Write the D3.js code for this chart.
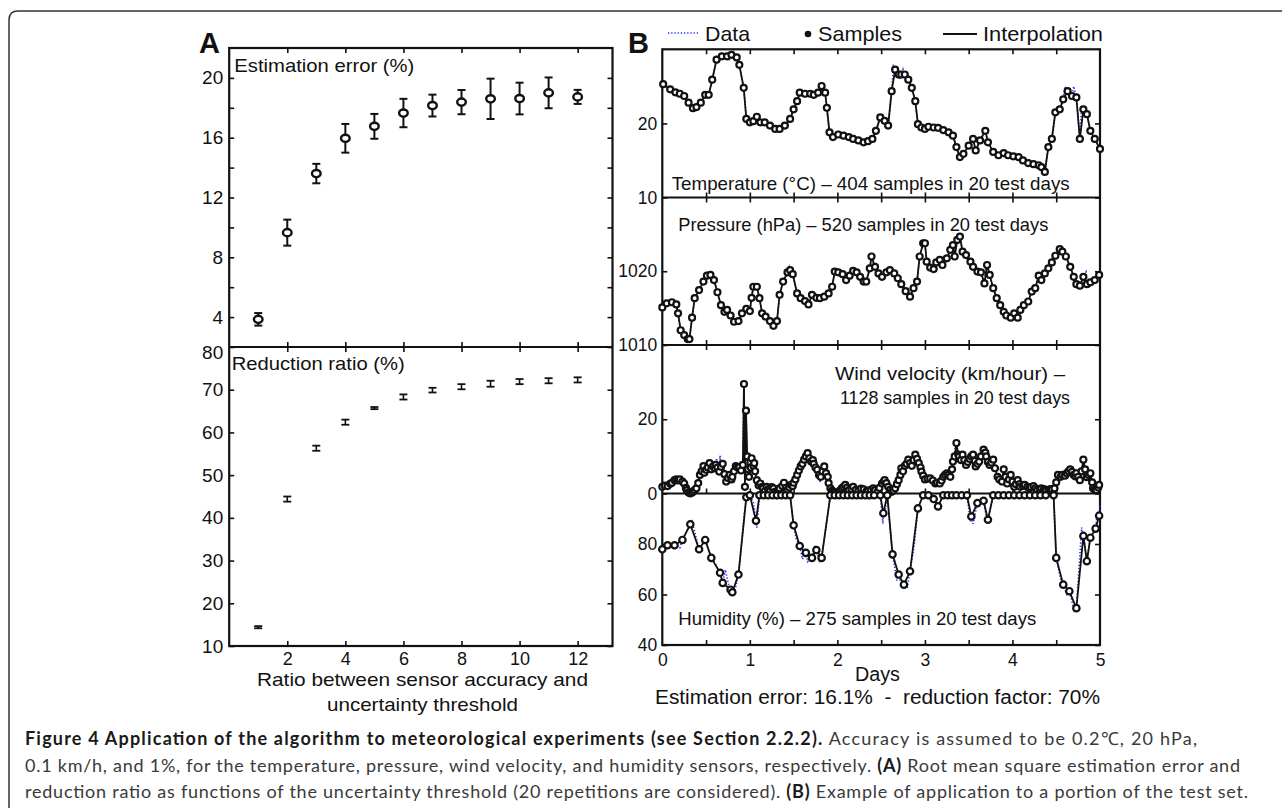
<!DOCTYPE html>
<html>
<head>
<meta charset="utf-8">
<title>Figure 4 - meteorological experiments</title>
<script src="https://d3js.org/d3.v7.min.js"></script>
<style>
  body { margin: 0; background: #fff; }
  svg text { font-family: "Liberation Sans", Arial, sans-serif; fill: #111; }
</style>
</head>
<body>
<script>
// ---------- data: panel A ----------
var ratio    = [1, 2, 3, 4, 5, 6, 7, 8, 9, 10, 11, 12];
var errMean  = [3.85, 9.65, 13.6, 15.96, 16.76, 17.65, 18.15, 18.38, 18.6, 18.62, 19.0, 18.73];
var errSd    = [0.42, 0.87, 0.65, 0.96, 0.83, 0.95, 0.73, 0.81, 1.35, 1.06, 1.03, 0.47];
var redMean  = [14.4, 44.4, 56.3, 62.4, 65.7, 68.3, 69.9, 70.7, 71.4, 71.9, 72.1, 72.3];
var redSd    = [0.25, 0.6, 0.6, 0.6, 0.25, 0.6, 0.55, 0.6, 0.7, 0.6, 0.6, 0.6];
var errTicks = [4, 6, 8, 10, 12, 14, 16, 18, 20];
var redTicks = [10, 20, 30, 40, 50, 60, 70, 80];
var ratioTicks = [2, 4, 6, 8, 10, 12];

// ---------- data: panel B  ([day, value]) ----------
var tempSamples = [[0.01,25.3],[0.09,24.6],[0.15,24.2],[0.2,24.0],[0.25,23.7],[0.3,22.8],[0.35,22.05],[0.39,22.2],[0.44,22.8],[0.49,23.85],[0.53,23.85],[0.57,25.9],[0.62,28.6],[0.68,29.05],[0.74,29.05],[0.79,29.25],[0.85,28.9],[0.88,27.9],[0.93,24.8],[0.96,20.6],[1.0,20.15],[1.04,20.3],[1.08,20.9],[1.12,20.15],[1.17,20.15],[1.23,19.7],[1.29,19.25],[1.34,19.25],[1.4,19.7],[1.46,20.6],[1.5,21.9],[1.54,23.0],[1.57,24.15],[1.63,24.0],[1.69,24.0],[1.73,23.85],[1.78,24.15],[1.82,25.05],[1.86,24.15],[1.88,22.1],[1.91,18.8],[1.95,18.15],[2.01,18.5],[2.07,18.35],[2.13,18.15],[2.18,17.9],[2.24,17.7],[2.3,17.45],[2.35,17.6],[2.4,17.9],[2.44,19.0],[2.49,20.8],[2.54,20.35],[2.58,19.7],[2.62,24.35],[2.66,27.25],[2.7,26.6],[2.73,26.6],[2.77,26.6],[2.81,25.9],[2.85,24.8],[2.89,23.0],[2.92,19.9],[2.96,19.45],[3.0,19.25],[3.04,19.55],[3.1,19.45],[3.15,19.4],[3.21,19.1],[3.27,18.8],[3.32,18.35],[3.36,16.8],[3.4,15.45],[3.44,15.9],[3.5,17.0],[3.55,17.9],[3.58,16.35],[3.63,17.7],[3.69,19.0],[3.72,17.45],[3.78,16.15],[3.84,15.7],[3.9,16.0],[3.95,15.7],[4.01,15.55],[4.07,15.45],[4.12,15.0],[4.18,14.65],[4.24,14.5],[4.3,14.35],[4.33,14.1],[4.37,13.45],[4.41,16.8],[4.45,17.9],[4.49,21.5],[4.54,21.9],[4.58,23.25],[4.63,24.35],[4.68,23.7],[4.73,23.5],[4.77,17.9],[4.81,21.9],[4.85,21.25],[4.89,19.0],[4.94,17.9],[5.0,16.55]];
var tempDataExtra = [[0.7,29.5],[0.76,28.4],[0.81,29.7],[0.9,26.5],[1.6,24.6],[1.76,24.5],[2.64,27.7],[2.71,25.9],[2.75,27.3],[2.79,26.0],[4.6,25.0],[4.66,24.0],[4.7,25.0],[4.79,22.4]];

var presSamples = [[0.0,1015.1],[0.05,1015.65],[0.11,1015.8],[0.16,1015.5],[0.18,1014.3],[0.21,1012.0],[0.25,1011.35],[0.29,1010.8],[0.31,1010.8],[0.34,1013.7],[0.37,1016.35],[0.42,1017.45],[0.47,1018.6],[0.51,1019.4],[0.55,1019.5],[0.59,1018.8],[0.63,1017.15],[0.67,1015.4],[0.71,1014.5],[0.74,1014.75],[0.78,1014.0],[0.82,1013.15],[0.87,1013.25],[0.91,1014.3],[0.96,1014.9],[1.0,1014.6],[1.02,1016.4],[1.04,1017.9],[1.08,1017.9],[1.11,1016.35],[1.14,1014.3],[1.18,1013.85],[1.23,1013.25],[1.27,1012.6],[1.31,1013.25],[1.34,1016.8],[1.38,1018.6],[1.43,1019.85],[1.46,1020.15],[1.49,1019.6],[1.54,1017.0],[1.58,1016.35],[1.63,1015.95],[1.67,1015.5],[1.71,1016.8],[1.76,1016.4],[1.8,1016.35],[1.85,1016.55],[1.9,1017.0],[1.94,1017.9],[1.97,1019.95],[2.01,1019.85],[2.06,1019.6],[2.1,1018.8],[2.14,1019.4],[2.18,1020.05],[2.22,1019.85],[2.26,1019.25],[2.3,1018.6],[2.33,1018.6],[2.37,1020.4],[2.39,1022.0],[2.43,1020.6],[2.47,1019.7],[2.51,1019.25],[2.56,1019.85],[2.6,1020.15],[2.65,1019.7],[2.69,1019.05],[2.73,1018.25],[2.78,1017.3],[2.83,1016.55],[2.87,1017.7],[2.91,1018.6],[2.94,1022.0],[2.98,1023.8],[3.0,1023.8],[3.02,1021.3],[3.06,1020.5],[3.1,1020.3],[3.13,1021.2],[3.17,1021.55],[3.2,1020.85],[3.25,1021.75],[3.29,1022.9],[3.32,1023.55],[3.34,1022.0],[3.37,1024.25],[3.4,1024.7],[3.43,1022.65],[3.47,1022.2],[3.52,1021.3],[3.55,1020.6],[3.6,1019.95],[3.64,1019.85],[3.68,1018.35],[3.71,1020.85],[3.74,1019.5],[3.78,1017.7],[3.82,1016.35],[3.86,1015.4],[3.9,1014.5],[3.93,1014.0],[3.98,1013.7],[4.02,1014.3],[4.06,1013.7],[4.09,1014.75],[4.13,1015.4],[4.18,1015.9],[4.22,1017.25],[4.26,1017.7],[4.3,1019.4],[4.33,1018.8],[4.37,1019.7],[4.41,1020.4],[4.45,1021.2],[4.49,1022.1],[4.54,1023.0],[4.57,1022.65],[4.61,1022.0],[4.66,1020.6],[4.7,1019.25],[4.73,1018.25],[4.77,1018.05],[4.81,1019.25],[4.85,1018.25],[4.89,1018.5],[4.94,1018.8],[4.99,1019.5]];
var presDataExtra = [[1.45,1020.6],[1.68,1016.0],[1.75,1016.9],[2.25,1018.9],[3.15,1021.9],[3.7,1021.4],[4.84,1019.9],[5.0,1020.2]];

var windSamples = [[0.0,1.8],[0.03,2.1],[0.06,2.0],[0.09,2.6],[0.11,2.9],[0.14,3.6],[0.16,3.8],[0.18,3.5],[0.2,3.8],[0.23,3.2],[0.25,2.7],[0.27,1.5],[0.28,0.9],[0.3,0.3],[0.32,0.0],[0.34,0.3],[0.35,0.45],[0.37,0.9],[0.39,1.4],[0.41,2.8],[0.43,5.0],[0.45,6.0],[0.47,7.4],[0.48,5.6],[0.5,6.4],[0.52,7.0],[0.54,8.2],[0.56,6.5],[0.58,7.3],[0.6,6.8],[0.61,7.7],[0.63,7.0],[0.65,5.9],[0.67,7.2],[0.69,8.0],[0.71,5.2],[0.73,3.2],[0.75,4.2],[0.77,5.0],[0.79,3.8],[0.8,4.5],[0.82,6.0],[0.84,7.4],[0.86,7.0],[0.88,7.1],[0.9,6.2],[0.92,7.7],[0.933,29.5],[0.944,1.8],[0.956,22.3],[0.97,10.0],[0.98,6.5],[0.99,4.5],[1.01,7.0],[1.02,9.5],[1.04,7.5],[1.05,8.2],[1.06,6.0],[1.08,3.6],[1.1,2.2],[1.12,2.7],[1.14,1.8],[1.15,1.4],[1.17,0.6],[1.19,1.8],[1.21,1.2],[1.23,0.9],[1.25,1.7],[1.27,1.4],[1.29,0.5],[1.31,0.2],[1.33,0.9],[1.34,1.4],[1.37,2.0],[1.39,2.9],[1.41,1.5],[1.43,0.9],[1.45,1.6],[1.47,2.3],[1.49,2.0],[1.5,2.9],[1.52,3.8],[1.54,5.0],[1.56,6.2],[1.58,7.3],[1.6,8.0],[1.62,9.1],[1.64,10.0],[1.66,10.9],[1.68,9.5],[1.7,8.6],[1.72,9.0],[1.73,8.0],[1.75,7.0],[1.77,6.4],[1.79,5.0],[1.81,4.5],[1.83,6.0],[1.85,7.3],[1.87,5.5],[1.89,4.5],[1.9,2.8],[1.92,1.4],[1.94,0.8],[1.95,0.45],[1.97,0.3],[2.0,0.2],[2.03,0.8],[2.05,1.4],[2.07,1.8],[2.09,2.3],[2.11,1.6],[2.13,0.9],[2.16,1.2],[2.18,1.8],[2.21,1.0],[2.24,0.7],[2.27,1.3],[2.3,1.1],[2.33,0.5],[2.35,0.7],[2.38,1.0],[2.41,1.4],[2.43,0.9],[2.46,0.45],[2.48,1.5],[2.51,2.7],[2.53,3.2],[2.54,3.6],[2.56,2.8],[2.58,1.8],[2.6,1.0],[2.62,0.45],[2.64,0.8],[2.66,1.4],[2.68,2.5],[2.7,3.6],[2.72,5.0],[2.73,6.8],[2.75,6.0],[2.77,7.45],[2.79,8.0],[2.81,9.1],[2.83,8.2],[2.85,7.45],[2.87,9.0],[2.89,10.45],[2.91,9.3],[2.93,8.2],[2.95,7.0],[2.96,5.9],[2.98,4.8],[3.0,3.8],[3.03,4.0],[3.06,4.1],[3.09,3.5],[3.12,2.7],[3.14,2.9],[3.17,2.7],[3.19,3.5],[3.21,4.5],[3.23,5.0],[3.25,5.45],[3.27,5.0],[3.29,4.5],[3.31,6.5],[3.32,8.6],[3.34,10.0],[3.36,13.6],[3.38,10.5],[3.39,10.0],[3.41,9.0],[3.43,10.45],[3.45,9.0],[3.47,7.7],[3.49,8.5],[3.51,9.3],[3.53,10.0],[3.55,10.45],[3.57,8.8],[3.58,7.3],[3.6,8.0],[3.62,8.6],[3.64,10.0],[3.67,11.8],[3.69,11.0],[3.7,10.0],[3.72,8.5],[3.74,7.7],[3.76,8.3],[3.78,9.1],[3.8,6.8],[3.83,4.5],[3.85,3.8],[3.88,3.2],[3.9,6.5],[3.92,4.5],[3.94,2.7],[3.96,3.8],[3.98,5.0],[4.0,3.2],[4.02,1.8],[4.04,2.5],[4.06,3.6],[4.08,2.5],[4.09,1.8],[4.12,2.1],[4.14,2.3],[4.17,1.8],[4.19,1.4],[4.21,1.7],[4.24,2.0],[4.26,1.4],[4.28,0.9],[4.31,1.1],[4.33,1.4],[4.36,1.2],[4.38,0.9],[4.41,1.0],[4.43,1.1],[4.45,1.2],[4.48,1.4],[4.5,3.0],[4.52,5.0],[4.55,4.5],[4.57,5.0],[4.6,4.8],[4.62,5.45],[4.64,6.0],[4.66,6.5],[4.68,5.8],[4.7,5.0],[4.72,4.6],[4.73,5.45],[4.75,4.5],[4.77,3.6],[4.79,6.0],[4.81,9.1],[4.83,6.5],[4.85,4.4],[4.87,5.0],[4.89,5.45],[4.91,3.0],[4.92,1.4],[4.94,1.0],[4.96,0.9],[4.98,1.6],[4.99,2.3]];
var windDataExtra = [[0.62,9.5],[0.66,10.2],[1.53,6.5],[1.8,3.0],[2.71,6.2],[3.35,14.2],[4.85,7.0]];

var humSamples = [[0.0,77.9],[0.06,79.5],[0.14,79.5],[0.23,81.6],[0.32,87.8],[0.42,77.9],[0.49,81.6],[0.56,74.5],[0.66,68.6],[0.69,64.6],[0.78,61.9],[0.8,60.9],[0.87,67.9],[0.96,98.5],[1.0,99.3],[1.07,89.2],[1.11,99.3],[1.16,99.3],[1.21,99.3],[1.26,99.3],[1.31,99.3],[1.36,99.3],[1.41,99.3],[1.46,99.3],[1.5,87.4],[1.57,79.2],[1.64,76.5],[1.71,74.5],[1.76,77.6],[1.82,74.5],[1.92,99.3],[1.97,99.3],[2.02,99.3],[2.07,99.3],[2.12,99.3],[2.17,99.3],[2.22,99.3],[2.27,99.3],[2.32,99.3],[2.37,99.3],[2.42,99.3],[2.49,99.3],[2.525,92.2],[2.57,99.3],[2.63,75.9],[2.7,67.9],[2.76,63.9],[2.83,69.2],[2.92,94.1],[2.98,99.3],[3.04,99.3],[3.1,97.8],[3.15,94.9],[3.21,99.3],[3.26,99.3],[3.31,99.3],[3.36,99.3],[3.42,99.3],[3.48,99.3],[3.53,90.9],[3.6,96.2],[3.67,97.1],[3.72,89.6],[3.78,99.3],[3.84,99.3],[3.9,99.3],[3.96,99.3],[4.02,99.3],[4.08,99.3],[4.14,99.3],[4.2,99.3],[4.26,99.3],[4.32,99.3],[4.38,99.3],[4.47,99.3],[4.5,74.5],[4.58,63.9],[4.65,61.3],[4.73,54.6],[4.81,83.2],[4.85,73.2],[4.89,82.5],[4.95,86.1],[4.99,91.2]];
var humDataExtra = [[0.2,78.5],[0.34,89.0],[0.6,72.5],[0.72,69.8],[0.76,63.5],[0.83,61.5],[0.94,93.0],[1.04,96.5],[1.08,86.5],[1.12,98.5],[1.3,98.0],[1.53,82.0],[1.6,74.0],[1.66,73.0],[1.74,79.5],[1.8,72.5],[2.1,98.3],[2.35,98.0],[2.52,88.0],[2.55,94.0],[2.68,65.5],[2.74,62.5],[2.8,63.0],[2.88,80.0],[3.13,96.5],[3.3,98.2],[3.52,89.0],[3.55,88.0],[3.71,88.5],[4.0,98.4],[4.3,98.0],[4.55,66.0],[4.62,60.0],[4.71,53.0],[4.79,86.5],[4.97,93.0],[5.0,96.0]];

var dayTicks = [0.5, 1, 1.5, 2, 2.5, 3, 3.5, 4, 4.5];
var dayLabels = [0, 1, 2, 3, 4, 5];

// ---------- basic setting ----------
var width = 1282, height = 808;
var ink = "#111";
var blue = "#2438f0";

var svg = d3.select("body").append("svg")
  .attr("width", width)
  .attr("height", height);

// outer frame (top + left, rounded corner)
svg.append("path")
  .attr("d", "M1282,11 H18 Q9,11 9,20 V808")
  .attr("fill", "none").attr("stroke", "#333").attr("stroke-width", 1.5);

function styleAxis(g, size) {
  g.select(".domain").remove();
  g.selectAll(".tick line").attr("stroke", ink).attr("stroke-width", 1.6);
  g.selectAll(".tick text").attr("font-size", size).attr("fill", ink)
    .attr("font-family", "'Liberation Sans', Arial, sans-serif");
}

function txt(x, y, s, size, len, opts) {
  opts = opts || {};
  var t = svg.append("text")
    .attr("x", x).attr("y", y)
    .attr("font-size", size)
    .attr("text-anchor", opts.anchor || "start")
    .attr("font-weight", opts.bold ? "bold" : null)
    .style("white-space", "pre")
    .text(s);
  if (len) t.attr("textLength", len).attr("lengthAdjust", "spacingAndGlyphs");
  return t;
}

var fmt = d3.format("d");

// ================= PANEL A =================
var xA = d3.scaleLinear().domain([0, 13.2]).range([229.2, 612.5]);
var yErr = d3.scaleLinear().domain([2, 22]).range([347, 48]);
var yRed = d3.scaleLinear().domain([10, 80]).range([646, 347]);

// frames
svg.append("rect").attr("x", xA(0)).attr("y", yErr(22))
  .attr("width", xA(13.2) - xA(0)).attr("height", yRed(10) - yErr(22))
  .attr("fill", "none").attr("stroke", ink).attr("stroke-width", 2.2);
svg.append("line").attr("x1", xA(0)).attr("x2", xA(13.2))
  .attr("y1", yErr(2)).attr("y2", yErr(2))
  .attr("stroke", ink).attr("stroke-width", 2.2);

// y axes (inward ticks)
svg.append("g").attr("transform", "translate(" + xA(0) + ",0)")
  .call(d3.axisLeft(yErr).tickValues(errTicks).tickSize(-5).tickPadding(6)
    .tickFormat(function(d) { return d % 4 === 0 ? d : ""; }))
  .call(styleAxis, 19);
svg.append("g").attr("transform", "translate(" + xA(13.2) + ",0)")
  .call(d3.axisRight(yErr).tickValues(errTicks).tickSize(-5).tickFormat(""))
  .call(styleAxis, 19);
var gRedL = svg.append("g").attr("transform", "translate(" + xA(0) + ",0)")
  .call(d3.axisLeft(yRed).tickValues(redTicks).tickSize(-5).tickPadding(6).tickFormat(fmt))
  .call(styleAxis, 19);
gRedL.selectAll(".tick text").filter(function(d) { return d === 80; }).attr("dy", "0.6em");
svg.append("g").attr("transform", "translate(" + xA(13.2) + ",0)")
  .call(d3.axisRight(yRed).tickValues(redTicks).tickSize(-5).tickFormat(""))
  .call(styleAxis, 19);

// x ticks
svg.append("g").attr("transform", "translate(0," + yErr(22) + ")")
  .call(d3.axisTop(xA).tickValues(ratioTicks).tickSize(-5).tickFormat(""))
  .call(styleAxis, 19);
svg.append("g").attr("transform", "translate(0," + yErr(2) + ")")
  .call(d3.axisBottom(xA).tickValues(ratioTicks).tickSize(-5).tickFormat(""))
  .call(styleAxis, 19);
svg.append("g").attr("transform", "translate(0," + yRed(80) + ")")
  .call(d3.axisTop(xA).tickValues(ratioTicks).tickSize(-5).tickFormat(""))
  .call(styleAxis, 19);
svg.append("g").attr("transform", "translate(0," + yRed(10) + ")")
  .call(d3.axisBottom(xA).tickValues(ratioTicks).tickSize(-5).tickPadding(6).tickFormat(fmt))
  .call(styleAxis, 18);

// error bars - estimation error
var gErr = svg.append("g");
ratio.forEach(function(r, i) {
  var x = xA(r), lo = yErr(errMean[i] - errSd[i]), hi = yErr(errMean[i] + errSd[i]);
  gErr.append("line").attr("x1", x).attr("x2", x).attr("y1", lo).attr("y2", hi)
    .attr("stroke", ink).attr("stroke-width", 2);
  [lo, hi].forEach(function(y) {
    gErr.append("line").attr("x1", x - 4).attr("x2", x + 4).attr("y1", y).attr("y2", y)
      .attr("stroke", ink).attr("stroke-width", 2);
  });
  gErr.append("ellipse").attr("cx", x).attr("cy", yErr(errMean[i]))
    .attr("rx", 4.3).attr("ry", 3.6)
    .attr("fill", "#fff").attr("stroke", ink).attr("stroke-width", 2.4);
});

// error bars - reduction ratio
var gRed = svg.append("g");
ratio.forEach(function(r, i) {
  var x = xA(r), lo = yRed(redMean[i] - redSd[i]), hi = yRed(redMean[i] + redSd[i]);
  gRed.append("line").attr("x1", x).attr("x2", x).attr("y1", lo).attr("y2", hi)
    .attr("stroke", ink).attr("stroke-width", 1.6);
  [lo, hi].forEach(function(y) {
    gRed.append("line").attr("x1", x - 4).attr("x2", x + 4).attr("y1", y).attr("y2", y)
      .attr("stroke", ink).attr("stroke-width", 1.8);
  });
});

// panel A texts
txt(199, 53, "A", 29, null, { bold: true });
txt(234.3, 71.8, "Estimation error (%)", 19, 180);
txt(231.7, 369.5, "Reduction ratio (%)", 19, 173);
txt(422.5, 685.5, "Ratio between sensor accuracy and", 19, 331, { anchor: "middle" });
txt(422.5, 710.5, "uncertainty threshold", 19, 191, { anchor: "middle" });

// ================= PANEL B =================
var xB = d3.scaleLinear().domain([0, 5]).range([662.3, 1100]);
var yT = d3.scaleLinear().domain([10, 30]).range([197.5, 49.3]);
var yP = d3.scaleLinear().domain([1010, 1030]).range([345, 197.5]);
var yW = d3.scaleLinear().domain([0, 40]).range([493.5, 345]);
var yH = d3.scaleLinear().domain([40, 100]).range([645, 493.5]);

var panels = [
  { y: yT, samples: tempSamples, extra: tempDataExtra, ticks: [10, 20], r: 3.0 },
  { y: yP, samples: presSamples, extra: presDataExtra, ticks: [1010, 1020], r: 3.0 },
  { y: yW, samples: windSamples, extra: windDataExtra, ticks: [0, 20], r: 3.0 },
  { y: yH, samples: humSamples, extra: humDataExtra, ticks: [40, 60, 80], r: 3.2 }
];

// frame and dividers
svg.append("rect").attr("x", xB(0)).attr("y", yT(30))
  .attr("width", xB(5) - xB(0)).attr("height", yH(40) - yT(30))
  .attr("fill", "none").attr("stroke", ink).attr("stroke-width", 2.2);
[yT(10), yP(1010), yW(0)].forEach(function(y) {
  svg.append("line").attr("x1", xB(0)).attr("x2", xB(5)).attr("y1", y).attr("y2", y)
    .attr("stroke", ink).attr("stroke-width", 2.2);
});

panels.forEach(function(p, k) {
  var top = p.y.range()[1], bottom = p.y.range()[0];
  // y axes
  svg.append("g").attr("transform", "translate(" + xB(0) + ",0)")
    .call(d3.axisLeft(p.y).tickValues(p.ticks).tickSize(-5).tickPadding(5).tickFormat(fmt))
    .call(styleAxis, 17.5);
  svg.append("g").attr("transform", "translate(" + xB(5) + ",0)")
    .call(d3.axisRight(p.y).tickValues(p.ticks).tickSize(-5).tickFormat(""))
    .call(styleAxis, 17.5);
  // x ticks along both edges
  if (k < 3) {
    svg.append("g").attr("transform", "translate(0," + top + ")")
      .call(d3.axisTop(xB).tickValues(dayTicks).tickSize(-5).tickFormat(""))
      .call(styleAxis, 17.5);
  }
  svg.append("g").attr("transform", "translate(0," + bottom + ")")
    .call(d3.axisBottom(xB).tickValues(dayTicks).tickSize(-5).tickFormat(""))
    .call(styleAxis, 17.5);

  var line = d3.line().x(function(d) { return xB(d[0]); }).y(function(d) { return p.y(d[1]); });
  var raw = p.samples.concat(p.extra).sort(function(a, b) { return a[0] - b[0]; });

  // data (blue dotted), interpolation (black), samples (circles)
  svg.append("path").datum(raw).attr("d", line)
    .attr("fill", "none").attr("stroke", blue).attr("stroke-width", 1.6)
    .attr("stroke-dasharray", "1.3,1.9");
  svg.append("path").datum(p.samples).attr("d", line)
    .attr("fill", "none").attr("stroke", ink).attr("stroke-width", 1.8);
  svg.append("g").selectAll("circle").data(p.samples).enter().append("circle")
    .attr("cx", function(d) { return xB(d[0]); })
    .attr("cy", function(d) { return p.y(d[1]); })
    .attr("r", p.r)
    .attr("fill", "#fff").attr("stroke", ink).attr("stroke-width", 2.2);
});

// day labels
svg.append("g").attr("transform", "translate(0," + yH(40) + ")")
  .call(d3.axisBottom(xB).tickValues(dayLabels).tickSize(0).tickPadding(9).tickFormat(fmt))
  .call(styleAxis, 17.5);

// panel B texts
txt(628, 53, "B", 29, null, { bold: true });
txt(671.7, 189.5, "Temperature (°C) \u2013 404 samples in 20 test days", 19, 398);
txt(678.3, 231.1, "Pressure (hPa) \u2013 520 samples in 20 test days", 19, 370);
txt(835, 379.5, "Wind velocity (km/hour) \u2013", 19, 230);
txt(840, 404.1, "1128 samples in 20 test days", 19, 230);
txt(678.3, 625.1, "Humidity (%) \u2013 275 samples in 20 test days", 19, 358);
txt(877.5, 680.5, "Days", 20, 45, { anchor: "middle" });
txt(655, 704.2, "Estimation error: 16.1%\u00a0 -\u00a0 reduction factor: 70%", 20, 445);

// legend
svg.append("line").attr("x1", 668).attr("x2", 700).attr("y1", 33).attr("y2", 33)
  .attr("stroke", blue).attr("stroke-width", 1.6).attr("stroke-dasharray", "1.3,1.9");
txt(705, 40.6, "Data", 21, 45);
svg.append("circle").attr("cx", 808).attr("cy", 34).attr("r", 3.3).attr("fill", ink);
txt(818, 40.6, "Samples", 21, 84);
svg.append("line").attr("x1", 943).attr("x2", 977).attr("y1", 34).attr("y2", 34)
  .attr("stroke", ink).attr("stroke-width", 1.8);
txt(983, 40.6, "Interpolation", 21, 120);

// ================= CAPTION =================
var capLines = [
  { y: 745.3, len: 1172, parts: [
    ["Figure 4 Application of the algorithm to meteorological experiments (see Section 2.2.2).", true],
    [" Accuracy is assumed to be 0.2\u2103, 20 hPa,", false]] },
  { y: 772.3, len: 1215, parts: [
    ["0.1 km/h, and 1%, for the temperature, pressure, wind velocity, and humidity sensors, respectively. ", false],
    ["(A)", true], [" Root mean square estimation error and", false]] },
  { y: 798.3, len: 1223, parts: [
    ["reduction ratio as functions of the uncertainty threshold (20 repetitions are considered). ", false],
    ["(B)", true], [" Example of application to a portion of the test set.", false]] }
];
capLines.forEach(function(l) {
  var t = svg.append("text")
    .attr("x", 25).attr("y", l.y).attr("font-size", 18)
    .attr("textLength", l.len).attr("lengthAdjust", "spacing")
    .style("font-family", "Lato, 'Open Sans', sans-serif");
  l.parts.forEach(function(p) {
    t.append("tspan").text(p[0])
      .attr("font-weight", p[1] ? "bold" : "normal")
      .attr("fill", p[1] ? "#1a1a1a" : "#3a3a3a");
  });
});
</script>
</body>
</html>
